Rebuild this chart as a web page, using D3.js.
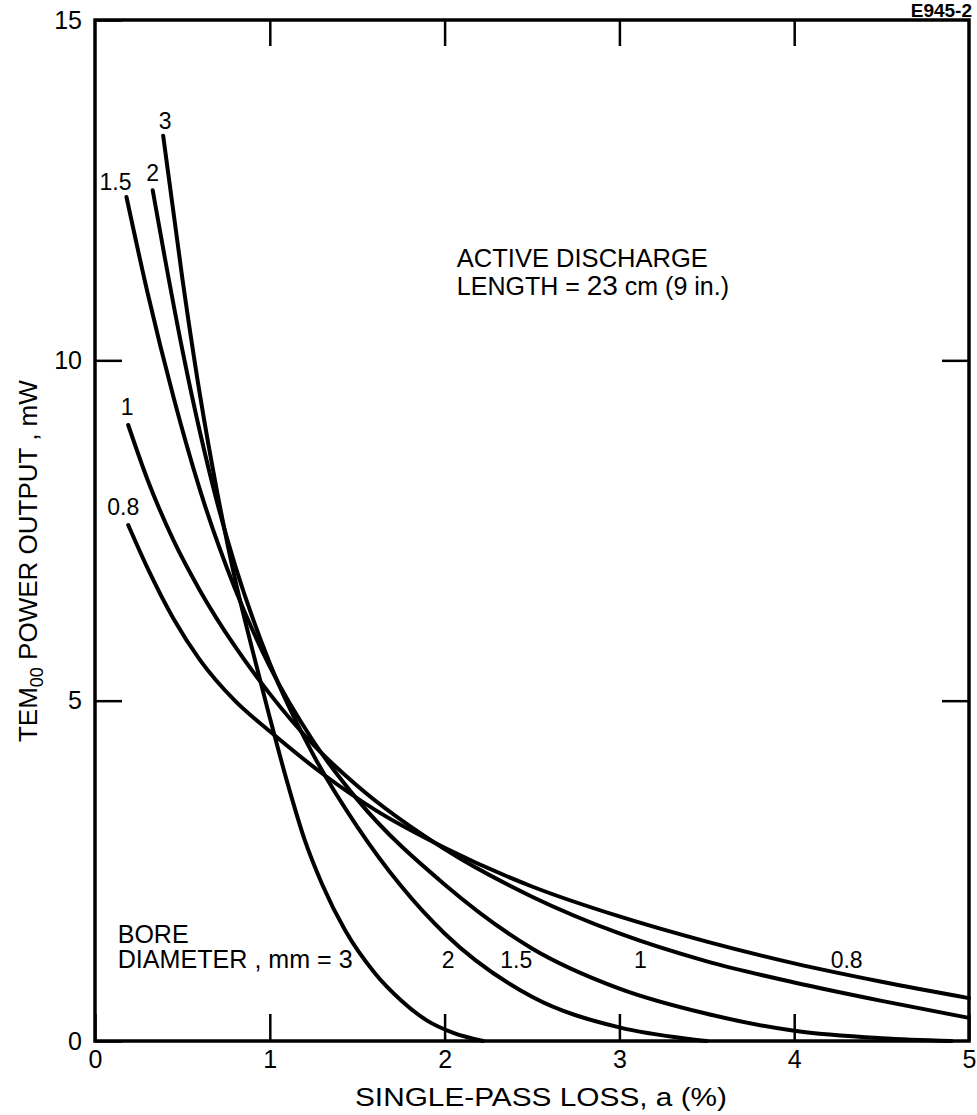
<!DOCTYPE html>
<meta charset="utf-8">
<style>
body { margin: 0; background: #fff; }
svg { font-family: "Liberation Sans", Arial, sans-serif; fill: #000; }
.frame { fill: none; stroke: #000; stroke-width: 3.5px; }
.axis .domain { display: none; }
.axis .tick line { stroke: #000; stroke-width: 2.5px; }
.axis text { font-size: 25px; fill: #000; font-family: "Liberation Sans", Arial, sans-serif; }
.curve { fill: none; stroke: #000; stroke-width: 4px; stroke-linecap: round; }
.lbl { font-size: 23px; }
.note { font-size: 25px; }
</style>
<body>
<script src="https://d3js.org/d3.v7.min.js"></script>
<script>

var width = 977,
    height = 1115;

// single-pass loss (%) and TEM00 output (mW), one pair per bore diameter
var bores = ["0.8", "1", "1.5", "2", "3"];

var loss08  = [0.19, 0.3, 0.45, 0.6, 0.8, 1.0, 1.3, 1.6, 2.0, 2.5, 3.0, 3.5, 4.0, 4.5, 5.0];
var power08 = [7.58, 6.95, 6.2, 5.6, 5.0, 4.55, 3.93, 3.4, 2.84, 2.27, 1.83, 1.46, 1.14, 0.87, 0.63];

var loss1  = [0.19, 0.3, 0.45, 0.6, 0.8, 1.0, 1.25, 1.5, 2.0, 2.5, 3.0, 3.5, 4.0, 4.5, 5.0];
var power1 = [9.05, 8.25, 7.35, 6.62, 5.8, 5.1, 4.35, 3.75, 2.82, 2.12, 1.58, 1.17, 0.86, 0.59, 0.34];

var loss15  = [0.18, 0.3, 0.45, 0.6, 0.8, 1.0, 1.25, 1.5, 2.0, 2.5, 3.0, 3.5, 4.0, 4.5, 4.9];
var power15 = [12.4, 11.0, 9.45, 8.1, 6.65, 5.5, 4.4, 3.55, 2.3, 1.36, 0.77, 0.4, 0.15, 0.04, 0.0];

var loss2  = [0.33, 0.4, 0.5, 0.6, 0.7, 0.8, 1.0, 1.25, 1.5, 1.75, 2.0, 2.5, 3.0, 3.4, 3.5];
var power2 = [12.5, 11.5, 10.15, 8.95, 7.9, 7.0, 5.55, 4.2, 3.15, 2.28, 1.58, 0.65, 0.2, 0.03, 0.0];

var loss3  = [0.39, 0.5, 0.6, 0.7, 0.8, 0.9, 1.0, 1.1, 1.2, 1.3, 1.43, 1.6, 1.75, 1.9, 2.05, 2.22];
var power3 = [13.3, 11.2, 9.5, 8.05, 6.8, 5.75, 4.75, 3.8, 2.95, 2.3, 1.63, 1.0, 0.6, 0.3, 0.12, 0.0];

var xTicks = [0, 1, 2, 3, 4, 5];
var yTicks = [0, 5, 10, 15];

// bore labels along the bottom, placed by loss value
var bottomLabels = ["2", "1.5", "1", "0.8"];
var bottomLabelLoss = [2.02, 2.41, 3.12, 4.3];

var series = [
  {bore: "0.8", loss: loss08, power: power08},
  {bore: "1",   loss: loss1,  power: power1},
  {bore: "1.5", loss: loss15, power: power15},
  {bore: "2",   loss: loss2,  power: power2},
  {bore: "3",   loss: loss3,  power: power3}
];

var x = d3.scaleLinear().domain([0, 5]).range([95, 969]);
var y = d3.scaleLinear().domain([0, 15]).range([1041, 20]);

var svg = d3.select("body").append("svg")
    .attr("width", width)
    .attr("height", height);

// ticks point inward on all four sides
svg.append("g")
    .attr("class", "axis")
    .attr("transform", "translate(0," + y(0) + ")")
    .call(d3.axisBottom(x).tickValues(xTicks).tickSize(-27).tickPadding(9).tickFormat(d3.format("d")));

svg.append("g")
    .attr("class", "axis")
    .attr("transform", "translate(0," + y(15) + ")")
    .call(d3.axisTop(x).tickValues([1, 2, 3, 4]).tickSize(-26).tickFormat(""));

svg.append("g")
    .attr("class", "axis")
    .attr("transform", "translate(" + x(0) + ",0)")
    .call(d3.axisLeft(y).tickValues(yTicks).tickSize(-27).tickPadding(13).tickFormat(d3.format("d")));

svg.append("g")
    .attr("class", "axis")
    .attr("transform", "translate(" + x(5) + ",0)")
    .call(d3.axisRight(y).tickValues([5, 10]).tickSize(-27).tickFormat(""));

svg.append("rect")
    .attr("class", "frame")
    .attr("x", x(0))
    .attr("y", y(15))
    .attr("width", x(5) - x(0))
    .attr("height", y(0) - y(15));

var line = d3.line()
    .x(function(d) { return x(d[0]); })
    .y(function(d) { return y(d[1]); })
    .curve(d3.curveMonotoneX);

svg.selectAll(".curve")
    .data(series)
  .enter().append("path")
    .attr("class", "curve")
    .attr("d", function(s) { return line(d3.zip(s.loss, s.power)); });

// bore labels above the start of each curve
var topOffset = {"0.8": [-5, -10], "1": [-1, -10], "1.5": [-11, -7], "2": [0, -9], "3": [2, -7]};
svg.selectAll(".top-lbl")
    .data(series)
  .enter().append("text")
    .attr("class", "lbl")
    .attr("text-anchor", "middle")
    .attr("x", function(s) { return x(s.loss[0]) + topOffset[s.bore][0]; })
    .attr("y", function(s) { return y(s.power[0]) + topOffset[s.bore][1]; })
    .text(function(s) { return s.bore; });

svg.selectAll(".bot-lbl")
    .data(bottomLabels)
  .enter().append("text")
    .attr("class", "lbl")
    .attr("text-anchor", "middle")
    .attr("x", function(d, i) { return x(bottomLabelLoss[i]); })
    .attr("y", y(1.07))
    .text(function(d) { return d; });

svg.append("text")
    .attr("class", "note")
    .attr("x", x(0.13))
    .attr("y", y(1.44))
    .text("BORE");
svg.append("text")
    .attr("class", "note")
    .attr("x", x(0.13))
    .attr("y", y(1.07))
    .attr("textLength", 235)
    .attr("lengthAdjust", "spacingAndGlyphs")
    .text("DIAMETER , mm = 3");

svg.append("text")
    .attr("class", "note")
    .attr("x", x(2.07))
    .attr("y", y(11.37))
    .attr("textLength", 251)
    .attr("lengthAdjust", "spacingAndGlyphs")
    .text("ACTIVE DISCHARGE");
var len = svg.append("text")
    .attr("class", "note")
    .attr("x", x(2.07))
    .attr("y", y(10.96));
len.append("tspan").text("LENGTH = ");
len.append("tspan").style("font-size", "28px").text("23");
len.append("tspan").text(" cm (9 in.)");

// axis titles
svg.append("text")
    .attr("class", "note")
    .attr("text-anchor", "middle")
    .attr("x", 541)
    .attr("y", 1106)
    .attr("textLength", 372)
    .attr("lengthAdjust", "spacingAndGlyphs")
    .text("SINGLE-PASS LOSS, a (%)");

var yt = svg.append("text")
    .attr("text-anchor", "middle")
    .style("font-size", "26px")
    .attr("transform", "translate(37," + y(7.05) + ") rotate(-90)");
yt.append("tspan").text("TEM");
yt.append("tspan").attr("dy", 6).style("font-size", "18px").text("00");
yt.append("tspan").attr("dy", -6).text(" POWER OUTPUT , mW");

svg.append("text")
    .attr("text-anchor", "end")
    .attr("x", 972)
    .attr("y", 17)
    .style("font-size", "19px")
    .style("font-weight", "bold")
    .text("E945-2");

</script>
